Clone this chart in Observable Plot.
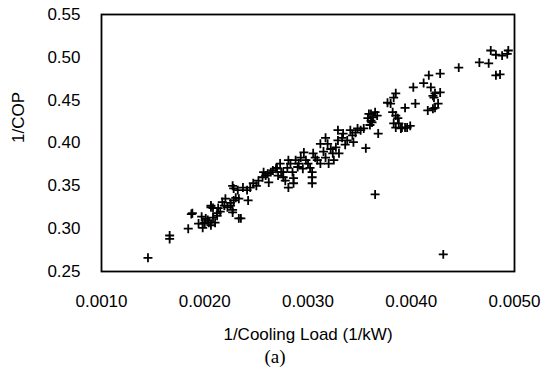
<!DOCTYPE html>
<html><head><meta charset="utf-8">
<script src="https://cdn.jsdelivr.net/npm/d3@7"></script>
<script src="https://cdn.jsdelivr.net/npm/@observablehq/plot@0.6"></script>
<style>body{margin:0;background:#fff}</style>
</head><body><div id="chart"></div>
<script>
// 1/Cooling Load (1/kW)
const invLoad = [
  0.00145, 0.00166, 0.00166, 0.00184, 0.00187, 0.00197, 0.00194, 0.00198, 0.00201, 0.00204,
  0.00206, 0.00208, 0.00206, 0.00212, 0.00213, 0.00217, 0.00220, 0.00225, 0.00227, 0.00233,
  0.00198, 0.00203, 0.00208, 0.00210, 0.00212, 0.00222, 0.00228, 0.00230, 0.00233, 0.00235,
  0.00242, 0.00227, 0.00228, 0.00232, 0.00237, 0.00241, 0.00244, 0.00247, 0.00252, 0.00256,
  0.00257, 0.00261, 0.00262, 0.00266, 0.00270, 0.00271, 0.00273, 0.00276, 0.00278, 0.00280,
  0.00281, 0.00264, 0.00276, 0.00283, 0.00285, 0.00286, 0.00281, 0.00288, 0.00291, 0.00293,
  0.00296, 0.00295, 0.00302, 0.00304, 0.00304, 0.00304, 0.00305, 0.00309, 0.00312, 0.00312,
  0.00317, 0.00319, 0.00317, 0.00320, 0.00324, 0.00325, 0.00327, 0.00329, 0.00329, 0.00330,
  0.00333, 0.00334, 0.00338, 0.00341, 0.00343, 0.00344, 0.00348, 0.00351, 0.00356, 0.00361,
  0.00361, 0.00368, 0.00365, 0.00354, 0.00359, 0.00358, 0.00362, 0.00365, 0.00363, 0.00377,
  0.00380, 0.00383, 0.00385, 0.00382, 0.00385, 0.00387, 0.00383, 0.00388, 0.00385, 0.00390,
  0.00394, 0.00394, 0.00399, 0.00404, 0.00402, 0.00412, 0.00417, 0.00419, 0.00421, 0.00423,
  0.00422, 0.00428, 0.00428, 0.00416, 0.00421, 0.00423, 0.00426, 0.00446, 0.00466, 0.00475,
  0.00477, 0.00482, 0.00488, 0.00493, 0.00494, 0.00482, 0.00486, 0.00431, 0.00286,
  0.00200, 0.00225, 0.00227, 0.00206, 0.00188, 0.00269, 0.00274, 0.00391, 0.00396, 0.00300,
  0.00307, 0.00315, 0.00322, 0.00336, 0.00346, 0.00360, 0.00367, 0.00215, 0.00219, 0.00250,
  0.00259, 0.00290, 0.00298
];
// 1/COP
const invCOP = [
  0.266, 0.292, 0.288, 0.300, 0.317, 0.314, 0.306, 0.301, 0.312, 0.307,
  0.304, 0.324, 0.327, 0.318, 0.324, 0.331, 0.335, 0.327, 0.319, 0.312,
  0.306, 0.310, 0.313, 0.307, 0.315, 0.325, 0.333, 0.336, 0.335, 0.312,
  0.333, 0.350, 0.347, 0.345, 0.348, 0.345, 0.348, 0.353, 0.356, 0.360,
  0.366, 0.364, 0.354, 0.368, 0.371, 0.362, 0.376, 0.366, 0.356, 0.371,
  0.380, 0.366, 0.360, 0.376, 0.366, 0.359, 0.348, 0.380, 0.376, 0.383,
  0.389, 0.370, 0.371, 0.366, 0.360, 0.353, 0.388, 0.380, 0.376, 0.399,
  0.406, 0.399, 0.383, 0.376, 0.388, 0.380, 0.395, 0.415, 0.403, 0.388,
  0.406, 0.411, 0.403, 0.415, 0.409, 0.401, 0.417, 0.415, 0.394, 0.434,
  0.426, 0.411, 0.340, 0.417, 0.434, 0.429, 0.424, 0.436, 0.430, 0.447,
  0.446, 0.453, 0.458, 0.436, 0.432, 0.429, 0.423, 0.423, 0.418, 0.417,
  0.441, 0.418, 0.420, 0.446, 0.465, 0.470, 0.479, 0.465, 0.455, 0.458,
  0.453, 0.459, 0.481, 0.438, 0.440, 0.441, 0.446, 0.488, 0.494, 0.493,
  0.508, 0.503, 0.502, 0.504, 0.508, 0.479, 0.480, 0.270, 0.353,
  0.307, 0.330, 0.322, 0.325, 0.318, 0.370, 0.366, 0.418, 0.418, 0.376,
  0.383, 0.390, 0.393, 0.398, 0.412, 0.421, 0.432, 0.320, 0.327, 0.350,
  0.362, 0.372, 0.380
];
const xTicks = [0.0010, 0.0020, 0.0030, 0.0040, 0.0050];
const yTicks = [0.25, 0.30, 0.35, 0.40, 0.45, 0.50, 0.55];
const xLabel = "1/Cooling Load (1/kW)";
const yLabel = "1/COP";
const caption = "(a)";

const points = invLoad.map((x, i) => ({x, y: invCOP[i]}));

const chart = Plot.plot({
  width: 550, height: 378,
  marginLeft: 101, marginRight: 36, marginTop: 14, marginBottom: 107,
  style: {fontFamily: "'Liberation Sans', Arial, sans-serif", fontSize: "17px", color: "black", background: "white"},
  x: {domain: [0.001, 0.005]},
  y: {domain: [0.25, 0.55]},
  marks: [
    Plot.frame({stroke: "black", strokeWidth: 1.8}),
    Plot.axisX(xTicks, {tickSize: 0, tickPadding: 23, tickFormat: d3.format(".4f"), label: null, fontSize: 17, style: "letter-spacing:0.4px"}),
    Plot.axisY(yTicks, {tickSize: 0, tickPadding: 21, tickFormat: d3.format(".2f"), label: null, fontSize: 17, style: "letter-spacing:0.5px"}),
    Plot.dot(points, {x: "x", y: "y", symbol: "plus", r: 3.0, stroke: "black", strokeWidth: 1.8}),
    Plot.text([xLabel], {text: d => d, frameAnchor: "bottom", dy: 63, lineAnchor: "middle", fontSize: 17, style: "letter-spacing:1.1px"}),
    Plot.text([yLabel], {text: d => d, frameAnchor: "left", dx: -83, rotate: -90, lineAnchor: "middle", fontSize: 17, style: "letter-spacing:0.5px"}),
    Plot.text([caption], {text: d => d, frameAnchor: "bottom", dy: 85, dx: -33, lineAnchor: "middle", fontSize: 19, fontFamily: "'Liberation Serif', 'DejaVu Serif', serif"})
  ]
});
document.getElementById("chart").append(chart);
</script>
</body></html>
